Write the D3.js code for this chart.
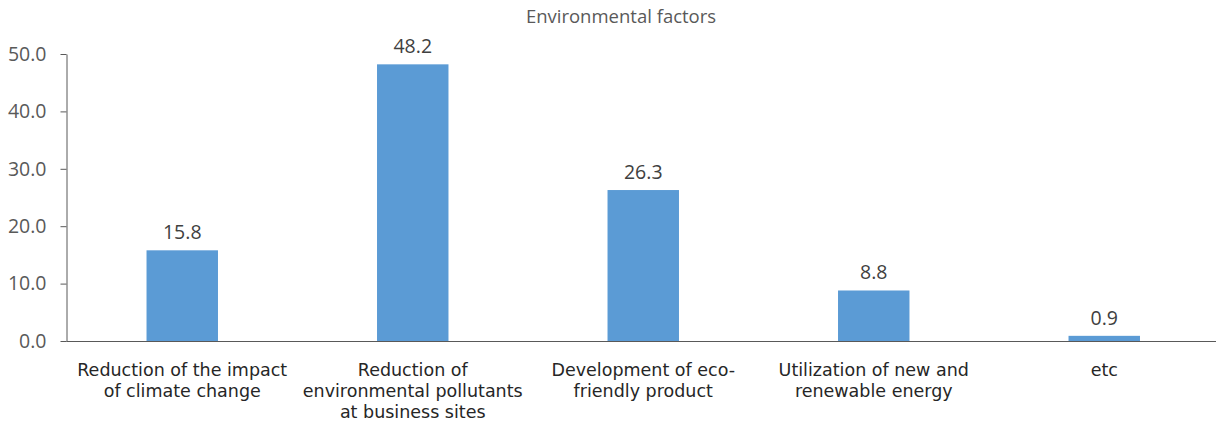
<!DOCTYPE html>
<html><head><meta charset="utf-8">
<script src="https://cdn.jsdelivr.net/npm/d3@7"></script>
<style>body{margin:0;background:#fff}svg{display:block}</style>
</head><body>
<svg id="c" width="1216" height="422"></svg>
<script>
const categories = [
  ["Reduction of the impact", "of climate change"],
  ["Reduction of", "environmental pollutants", "at business sites"],
  ["Development of eco-", "friendly product"],
  ["Utilization of new and", "renewable energy"],
  ["etc"]
];
const values = [15.8, 48.2, 26.3, 8.8, 0.9];
const yTicks = [0, 10, 20, 30, 40, 50];
const title = "Environmental factors";

const svg = d3.select("#c");
const m = {left: 67, right: -3.5, top: 54, bottom: 81};
const W = 1216, H = 422;
const x = d3.scaleBand().domain(d3.range(values.length)).range([m.left, W - m.right]).paddingInner(0.69).paddingOuter(0.345);
const y = d3.scaleLinear().domain([0, 50]).range([H - m.bottom, m.top]);

svg.append("text").attr("x", 621).attr("y", 23).attr("text-anchor", "middle")
  .attr("font-family", "Open Sans, Noto Sans, sans-serif").attr("font-size", 18.5).attr("fill", "#595959").text(title);

const ya = svg.append("g").attr("transform", `translate(${m.left - 0.5},0)`)
  .call(d3.axisLeft(y).tickValues(yTicks).tickFormat(d3.format(".1f")).tickSize(6).tickSizeOuter(0));
ya.select(".domain").attr("stroke", "#595959");
ya.selectAll(".tick line").attr("stroke", "#595959");
ya.selectAll(".tick text").attr("font-family", "Open Sans, Noto Sans, sans-serif").attr("font-size", 19.5).attr("fill", "#595959").attr("x", -20);

svg.selectAll("rect.bar").data(values).join("rect").attr("class", "bar")
  .attr("x", (d, i) => x(i)).attr("width", x.bandwidth())
  .attr("y", d => y(d)).attr("height", d => y(0) - y(d)).attr("fill", "#5B9BD5");

svg.append("line").attr("x1", m.left - 0.5).attr("x2", W).attr("y1", y(0) + 0.5).attr("y2", y(0) + 0.5).attr("stroke", "#595959");

svg.selectAll("text.val").data(values).join("text").attr("class", "val")
  .attr("x", (d, i) => x(i) + x.bandwidth() / 2).attr("y", d => y(d) - 11)
  .attr("text-anchor", "middle").attr("font-family", "Open Sans, Noto Sans, sans-serif").attr("font-size", 19.5).attr("fill", "#404040")
  .text(d => d3.format(".1f")(d));

const lab = svg.selectAll("text.cat").data(categories).join("text").attr("class", "cat")
  .attr("text-anchor", "middle").attr("font-family", "DejaVu Sans, sans-serif").attr("font-size", 17.5).attr("fill", "#262626");
lab.each(function(lines, i) {
  d3.select(this).selectAll("tspan").data(lines).join("tspan")
    .attr("x", x(i) + x.bandwidth() / 2).attr("y", (d, j) => 376 + j * 21).text(d => d);
});
</script>
</body></html>
